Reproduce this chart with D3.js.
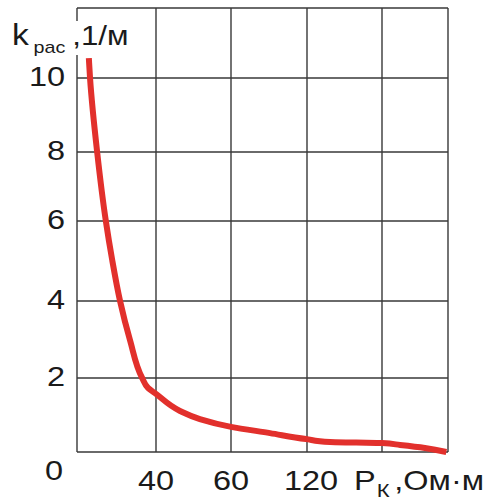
<!DOCTYPE html>
<html><head><meta charset="utf-8">
<script src="https://cdn.jsdelivr.net/npm/d3@7/dist/d3.min.js"></script>
<style>body{margin:0;background:#fff}svg{display:block}text{font-family:"Liberation Sans",Arial,sans-serif;fill:#1a1a1a}</style>
</head><body><svg id="c" width="484" height="501"></svg>
<script>
// Grid values on the x axis (Ом·м) – the axis is non-uniform in the original
const xGridValues = [20, 40, 60, 120, 180, 240];
const xTickValues = [40, 60, 120];
const xTickLabels = ["40", "60", "120"];
const yTickValues = [2, 4, 6, 8, 10];
const yGridValues = [0, 2, 4, 6, 8, 10];
const yMax = 11.87;
// Curve: resistivity P_K (Ом·м) and k_рас (1/м)
const curveX = [23.0, 23.3, 25.1, 27.3, 28.9, 30.9, 33.4, 36.5, 38.0, 40.0, 46.4, 51.7, 60, 90.8, 119.2, 138.4, 180, 196.4, 219, 238.5];
const curveY = [10.53, 10.0, 8.0, 6.0, 5.03, 4.0, 2.99, 2.0, 1.73, 1.57, 1.11, 0.89, 0.68, 0.51, 0.35, 0.27, 0.24, 0.19, 0.11, 0.0];

const svg = d3.select("#c");
// layout: pixel positions of the (hand-drawn, slightly uneven) grid lines
const xGridRange = [77, 156, 231, 307, 382, 448];
const yGridRange = [452, 378, 301, 221, 152, 78, 8];
const x = d3.scaleLinear().domain(xGridValues).range(xGridRange);
const y = d3.scaleLinear().domain(yGridValues.concat([yMax])).range(yGridRange);
const SX = 1.16; // horizontal stretch of the lettering in the original

function label(parent, px, py, size, anchor) {
  return parent.append("text")
    .attr("transform", `translate(${px},${py}) scale(${SX},1)`)
    .attr("font-size", size).attr("text-anchor", anchor || "start");
}

const grid = svg.append("g").attr("stroke", "#383838").attr("stroke-width", 1.4).attr("fill", "none");
grid.selectAll("line.v").data(xGridValues).join("line").attr("class", "v")
  .attr("x1", d => x(d)).attr("x2", d => x(d)).attr("y1", y(yMax)).attr("y2", y(0));
grid.selectAll("line.h").data(yGridValues.concat([yMax])).join("line").attr("class", "h")
  .attr("x1", x(xGridValues[0])).attr("x2", x(xGridValues[xGridValues.length - 1]))
  .attr("y1", d => y(d)).attr("y2", d => y(d));

// y tick labels
yTickValues.forEach(v => label(svg, x(xGridValues[0]) - 12, y(v) + 8, 28, "end").text(v));
// origin label
label(svg, x(xGridValues[0]) - 14, y(0) + 28, 28, "end").text("0");
// x tick labels
xTickValues.forEach((v, i) => label(svg, x(v) + (i === 2 ? 4 : 0), y(0) + 38, 28, "middle").text(xTickLabels[i]));

// x axis title
const xt = label(svg, 354, y(0) + 38, 28);
xt.append("tspan").text("P");
xt.append("tspan").attr("font-size", 19).attr("dy", 7).attr("dx", 1).text("К");
xt.append("tspan").attr("dy", -7).attr("dx", 4).text(",Ом·м");

// curve
const pts = curveX.map((v, i) => [v, curveY[i]]);
svg.append("path").datum(pts)
  .attr("fill", "none").attr("stroke", "#e2302c").attr("stroke-width", 6)
  .attr("d", d3.line().x(d => x(d[0])).y(d => y(d[1])).curve(d3.curveMonotoneY));

// y axis title with white backing
const bg = svg.append("rect").attr("fill", "#fff");
const yt = label(svg, 12, 45, 29);
yt.append("tspan").text("k");
yt.append("tspan").attr("font-size", 17).attr("dy", 8).attr("dx", 4).text("рас");
yt.append("tspan").attr("font-size", 27).attr("dy", -8).attr("dx", 6).text(",1/м");
const r = yt.node().getBoundingClientRect();
bg.attr("x", r.left - 2).attr("y", 21).attr("width", r.width + 4).attr("height", 34);
</script></body></html>
